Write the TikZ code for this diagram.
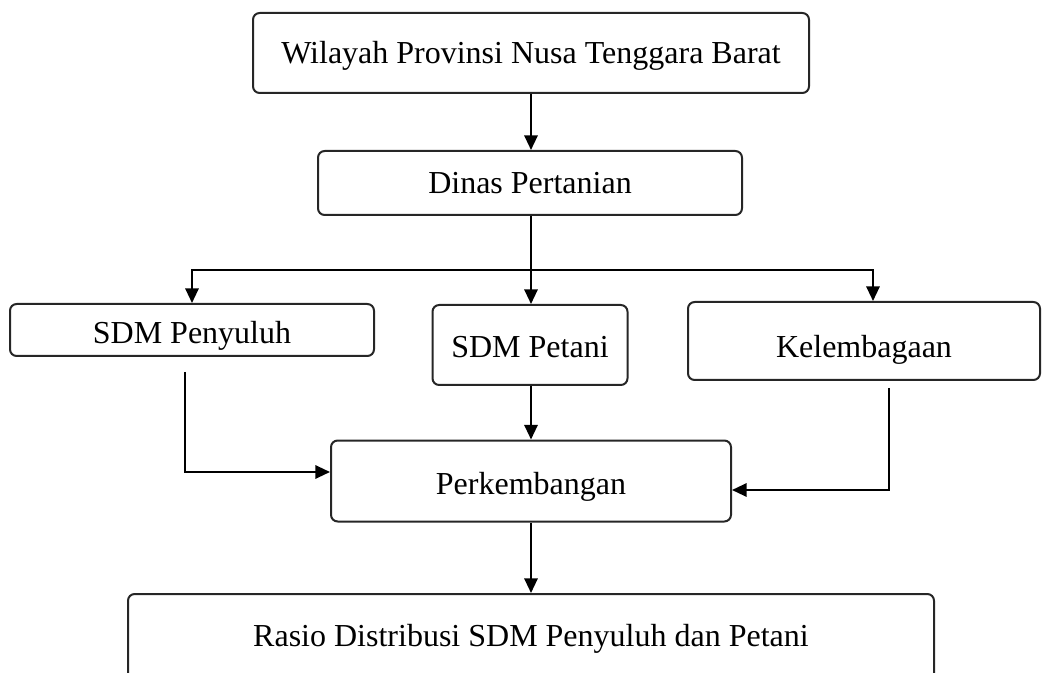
\documentclass[tikz,border=0pt]{standalone}
\usepackage{fontspec}
\setmainfont{Liberation Serif}
\usetikzlibrary{arrows.meta}
\newcommand{\lowr}[2]{\raisebox{-#1}[0pt][0pt]{#2}}
\begin{document}
\begin{tikzpicture}[x=0.75pt,y=-0.75pt,
  box/.style={draw=black!85, line width=1.5pt, rounded corners=5pt, inner sep=0pt, font=\fontsize{24}{28}\selectfont},
  conn/.style={draw=black, line width=1.6pt},
  arr/.style={conn, -{Triangle[length=11pt,width=10pt]}}]
\useasboundingbox (0,0) rectangle (1049,673);
\node[box, minimum width=556*0.75pt, minimum height=80*0.75pt] (wil) at (531,53) {\lowr{7.9pt}{Wilayah Provinsi Nusa Tenggara Barat}};
\node[box, minimum width=424*0.75pt, minimum height=64*0.75pt] (din) at (530,183) {\lowr{7.9pt}{Dinas Pertanian}};
\node[box, minimum width=364*0.75pt, minimum height=52*0.75pt] (pen) at (192,330) {\lowr{10.2pt}{SDM Penyuluh}};
\node[box, minimum width=195*0.75pt, minimum height=80*0.75pt] (pet) at (530,345) {\lowr{9.4pt}{SDM Petani}};
\node[box, minimum width=352*0.75pt, minimum height=78*0.75pt] (kel) at (864,341) {\lowr{12.4pt}{Kelembagaan}};
\node[box, minimum width=400*0.75pt, minimum height=81*0.75pt] (per) at (531,481) {\lowr{10.2pt}{Perkembangan}};
\node[box, minimum width=806*0.75pt, minimum height=90*0.75pt] (ras) at (531,639) {\lowr{5.3pt}{Rasio Distribusi SDM Penyuluh dan Petani}};
\coordinate (split) at (531,270);
\coordinate (penb) at (185,372);
\coordinate (kelb) at (889,388);
\draw[arr] (wil.south -| 531,0) -- (din.north -| 531,0);
\draw[conn] (din.south -| split) -- (split);
\draw[arr] (split) -- (pet.north -| split);
\draw[arr] (split) -| (pen.north -| 192,0);
\draw[arr] (split) -| (kel.north -| 873,0);
\draw[arr] (penb) |- (per.west |- 0,472);
\draw[arr] (pet.south -| 531,0) -- (per.north -| 531,0);
\draw[arr] (kelb) |- (per.east |- 0,490);
\draw[arr] (per.south -| 531,0) -- (ras.north -| 531,0);
\end{tikzpicture}
\end{document}
